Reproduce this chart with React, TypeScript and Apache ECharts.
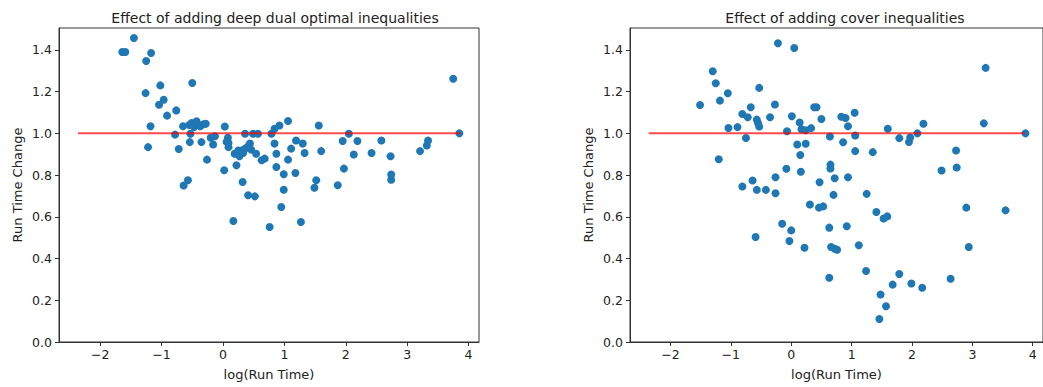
import React, { useEffect, useRef } from "react";
import * as echarts from "echarts";

const titles = [
  "Effect of adding deep dual optimal inequalities",
  "Effect of adding cover inequalities",
];
const xName = "log(Run Time)";
const yName = "Run Time Change";

const xTicks = [-2, -1, 0, 1, 2, 3, 4];
const yTicks = [0, 0.2, 0.4, 0.6, 0.8, 1.0, 1.2, 1.4];

const refY = 1.0;
const leftRefX = [-2.36, 3.86];
const rightRefX = [-2.36, 3.87];

const leftPoints: [number, number][] = [
  [-1.64, 1.39], [-1.59, 1.39], [-1.45, 1.457], [-1.25, 1.347], [-1.17, 1.385],
  [-1.26, 1.193], [-1.18, 1.034], [-1.22, 0.934], [-1.02, 1.23], [-1.04, 1.137],
  [-0.965, 1.161], [-0.91, 1.085], [-0.76, 1.11], [-0.5, 1.241], [-0.78, 0.994],
  [-0.72, 0.925], [-0.65, 1.034], [-0.64, 0.75], [-0.57, 0.775], [-0.55, 1.04],
  [-0.51, 1.05], [-0.47, 1.03], [-0.43, 1.058], [-0.4, 1.04], [-0.37, 1.034],
  [-0.32, 1.043], [-0.54, 0.958], [-0.53, 0.998], [-0.35, 0.958], [-0.28, 1.046],
  [-0.26, 0.874], [-0.2, 0.979], [-0.16, 0.947], [-0.13, 0.986], [0.03, 1.033],
  [0.02, 0.823], [0.06, 0.96], [0.08, 0.979], [0.09, 0.954], [0.09, 0.934],
  [0.19, 0.902], [0.22, 0.847], [0.25, 0.918], [0.27, 0.89], [0.3, 0.918],
  [0.33, 0.906], [0.36, 0.927], [0.41, 0.938], [0.44, 0.951], [0.46, 0.922],
  [0.36, 0.998], [0.49, 0.998], [0.57, 0.998], [0.54, 0.902], [0.63, 0.871],
  [0.68, 0.879], [0.32, 0.767], [0.41, 0.703], [0.52, 0.698], [0.17, 0.58],
  [0.76, 0.551], [0.79, 0.998], [0.84, 1.022], [0.92, 1.038], [1.06, 1.059],
  [0.84, 0.951], [0.87, 0.902], [0.87, 0.839], [0.99, 0.804], [0.99, 0.73],
  [0.95, 0.647], [1.11, 0.927], [1.06, 0.874], [1.19, 0.966], [1.3, 0.951],
  [1.33, 0.906], [1.18, 0.81], [1.27, 0.575], [1.49, 0.739], [1.52, 0.775],
  [1.56, 1.038], [1.6, 0.915], [1.87, 0.751], [1.95, 0.963], [1.97, 0.831],
  [2.05, 0.998], [2.13, 0.899], [2.19, 0.963], [2.42, 0.906], [2.58, 0.966],
  [2.73, 0.89], [2.74, 0.803], [2.74, 0.778], [3.21, 0.915], [3.32, 0.942],
  [3.34, 0.966], [3.75, 1.262], [3.85, 1.0],
];

const rightPoints: [number, number][] = [
  [-1.51, 1.136], [-1.3, 1.298], [-1.25, 1.24], [-1.18, 1.157], [-1.05, 1.192],
  [-1.2, 0.876], [-1.04, 1.026], [-0.89, 1.03], [-0.81, 1.093], [-0.72, 1.077],
  [-0.67, 1.125], [-0.75, 0.978], [-0.81, 0.745], [-0.64, 0.774], [-0.57, 0.729],
  [-0.42, 0.729], [-0.26, 0.713], [-0.59, 0.503], [-0.57, 1.066], [-0.55, 1.05],
  [-0.53, 1.033], [-0.53, 1.218], [-0.35, 1.077], [-0.27, 1.138], [-0.26, 0.79],
  [-0.22, 1.432], [-0.08, 0.83], [-0.15, 0.567], [-0.07, 1.01], [0.0, 0.535],
  [-0.03, 0.484], [0.01, 1.082], [0.05, 1.409], [0.1, 0.947], [0.24, 0.95],
  [0.14, 1.052], [0.15, 0.896], [0.16, 0.816], [0.17, 1.02], [0.24, 1.015],
  [0.33, 1.025], [0.22, 0.452], [0.31, 0.659], [0.38, 1.125], [0.42, 1.125],
  [0.5, 1.069], [0.47, 0.766], [0.46, 0.644], [0.53, 0.65], [0.63, 0.308],
  [0.63, 0.548], [0.66, 0.455], [0.72, 0.447], [0.76, 0.442], [0.64, 0.985],
  [0.65, 0.85], [0.65, 0.832], [0.72, 0.785], [0.7, 0.705], [0.83, 1.08],
  [0.9, 1.074], [0.86, 0.957], [0.94, 1.034], [0.94, 0.79], [0.92, 0.555],
  [1.05, 1.099], [1.06, 0.99], [1.06, 0.915], [1.12, 0.464], [1.24, 0.34],
  [1.25, 0.71], [1.35, 0.91], [1.41, 0.623], [1.48, 0.228], [1.46, 0.11],
  [1.57, 0.171], [1.53, 0.592], [1.59, 0.602], [1.6, 1.022], [1.68, 0.275],
  [1.79, 0.326], [1.79, 0.977], [1.95, 0.958], [1.97, 0.98], [1.99, 0.28],
  [2.09, 1.0], [2.17, 0.26], [2.19, 1.046], [2.49, 0.822], [2.64, 0.303],
  [2.73, 0.918], [2.74, 0.836], [2.9, 0.644], [2.94, 0.455], [3.22, 1.314],
  [3.19, 1.048], [3.55, 0.631], [3.88, 1.0],
];

const FONT = "DejaVu Sans";
const TXT = "#222";
const AX = "#333";

const fmtX = (v: number) => (v < 0 ? "\u2212" + Math.abs(v) : String(v));
const fmtY = (v: number) => v.toFixed(1);

function makeX(gridIndex: number) {
  return {
    type: "value",
    gridIndex,
    min: -2.67,
    max: 4.17,
    name: xName,
    nameLocation: "middle",
    nameGap: 26,
    nameTextStyle: { fontSize: 13, color: TXT, fontFamily: FONT },
    axisLine: { show: true, onZero: false, lineStyle: { color: AX, width: 1 } },
    axisTick: { show: true, customValues: xTicks, length: 4, inside: false, lineStyle: { color: AX } },
    axisLabel: { customValues: xTicks, formatter: fmtX, margin: 6, color: TXT, fontSize: 12.5, fontFamily: FONT },
    splitLine: { show: false },
  };
}

function makeY(gridIndex: number) {
  return {
    type: "value",
    gridIndex,
    min: 0,
    max: 1.505,
    name: yName,
    nameLocation: "middle",
    nameGap: 35,
    nameTextStyle: { fontSize: 13, color: TXT, fontFamily: FONT },
    axisLine: { show: true, onZero: false, lineStyle: { color: AX, width: 1 } },
    axisTick: { show: true, customValues: yTicks, length: 4, inside: false, lineStyle: { color: AX } },
    axisLabel: { customValues: yTicks, formatter: fmtY, margin: 7, color: TXT, fontSize: 12.5, fontFamily: FONT },
    splitLine: { show: false },
  };
}

export default function App() {
  const ref = useRef<HTMLDivElement>(null);
  useEffect(() => {
    if (!ref.current) return;
    const chart = echarts.init(ref.current, null, { renderer: "svg" });
    const scatterStyle = { color: "#1f77b4", opacity: 1 };
    const lineStyle = { color: "rgba(255,0,0,0.7)", width: 2 };
    chart.setOption({
      animation: false,
      backgroundColor: "#ffffff",
      title: [
        { text: titles[0], left: 270, top: 6, textAlign: "center", textStyle: { fontSize: 14, fontWeight: "normal", color: TXT, fontFamily: FONT } },
        { text: titles[1], left: 840, top: 6, textAlign: "center", textStyle: { fontSize: 14, fontWeight: "normal", color: TXT, fontFamily: FONT } },
      ],
      grid: [
        { left: 59, top: 28, width: 420, height: 314, show: true, borderColor: AX, borderWidth: 1, backgroundColor: "transparent" },
        { left: 630, top: 28, width: 418, height: 314, show: true, borderColor: AX, borderWidth: 1, backgroundColor: "transparent" },
      ],
      xAxis: [makeX(0), makeX(1)],
      yAxis: [makeY(0), makeY(1)],
      series: [
        { type: "scatter", xAxisIndex: 0, yAxisIndex: 0, data: leftPoints, symbolSize: 8, itemStyle: scatterStyle, z: 2 },
        { type: "line", xAxisIndex: 0, yAxisIndex: 0, data: leftRefX.map((x) => [x, refY]), symbol: "none", lineStyle, z: 3 },
        { type: "scatter", xAxisIndex: 1, yAxisIndex: 1, data: rightPoints, symbolSize: 8, itemStyle: scatterStyle, z: 2 },
        { type: "line", xAxisIndex: 1, yAxisIndex: 1, data: rightRefX.map((x) => [x, refY]), symbol: "none", lineStyle, z: 3 },
      ],
    });
    return () => chart.dispose();
  }, []);
  return (
    <div
      ref={ref}
      style={{ position: "absolute", left: 0, top: 0, width: 1043, height: 387, overflow: "hidden", background: "#fff" }}
    />
  );
}
